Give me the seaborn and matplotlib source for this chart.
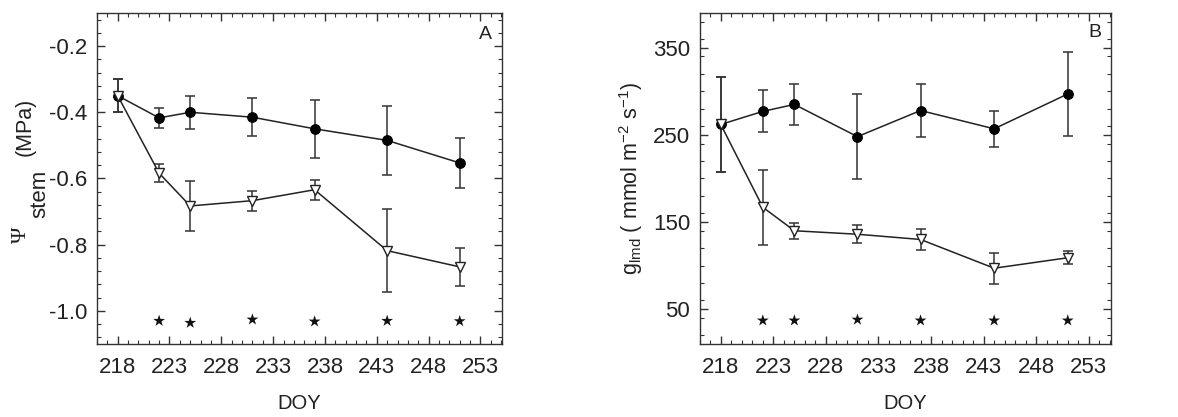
import matplotlib
matplotlib.use("Agg")
import matplotlib.pyplot as plt
import seaborn as sns
import numpy as np
import pandas as pd
from matplotlib.ticker import MultipleLocator

# ---- data ----
doy = [218, 222, 225, 231, 237, 244, 251]

# Panel A: stem water potential (MPa)
psi_ctrl = [-0.35, -0.417, -0.40, -0.415, -0.45, -0.485, -0.553]
psi_ctrl_err = [0.05, 0.03, 0.05, 0.057, 0.087, 0.104, 0.076]
psi_stress = [-0.35, -0.584, -0.683, -0.667, -0.634, -0.818, -0.867]
psi_stress_err = [0.05, 0.028, 0.075, 0.03, 0.03, 0.126, 0.058]

# Panel B: conductance (mmol m-2 s-1)
g_ctrl = [262, 277, 285, 248, 278, 257, 297]
g_ctrl_err = [55, 24, 24, 49, 30, 21, 48]
g_stress = [262, 167, 140, 136, 130, 97, 109]
g_stress_err = [55, 43, 9, 10.5, 12, 18, 7.5]

star_doy = [222, 225, 231, 237, 244, 251]
star_y_A = [-1.03, -1.036, -1.026, -1.032, -1.03, -1.031]
star_y_B = [37, 37, 38, 37, 37, 37]

x_ticks = [218, 223, 228, 233, 238, 243, 248, 253]
yticks_A = [-1.0, -0.8, -0.6, -0.4, -0.2]
yticks_B = [50, 150, 250, 350]

sns.set_theme(style="ticks")
plt.rcParams['font.family'] = ['Liberation Sans', 'DejaVu Sans']
plt.rcParams['mathtext.fontset'] = 'custom'
plt.rcParams['mathtext.rm'] = 'Liberation Sans'
plt.rcParams['mathtext.it'] = 'Liberation Sans:italic'

W, H = 1178, 417
fig = plt.figure(figsize=(W / 100, H / 100), dpi=100)
axA = fig.add_axes([0.0823, 0.175, 0.344, 0.794])
axB = fig.add_axes([0.594, 0.175, 0.349, 0.794])

TXT = '#222222'
EDGE = '#333333'

def draw(ax, ctrl, ctrl_err, stress, stress_err, stars_y):
    df = pd.DataFrame({'doy': doy * 2,
                       'val': ctrl + stress,
                       'grp': ['ctrl'] * len(doy) + ['stress'] * len(doy)})
    ax.errorbar(doy, ctrl, yerr=ctrl_err, fmt='none', ecolor=EDGE,
                elinewidth=1.1, capsize=3.6, capthick=1.1, zorder=2)
    ax.errorbar(doy, stress, yerr=stress_err, fmt='none', ecolor=EDGE,
                elinewidth=1.1, capsize=3.6, capthick=1.1, zorder=2)
    sns.lineplot(data=df[df.grp == 'ctrl'], x='doy', y='val', ax=ax,
                 color='#222222', lw=1.1, marker='o', markersize=7,
                 markerfacecolor='black', markeredgecolor='black', zorder=3)
    sns.lineplot(data=df[df.grp == 'stress'], x='doy', y='val', ax=ax,
                 color='#222222', lw=1.1, marker='v', markersize=7,
                 markerfacecolor='white', markeredgecolor='#222222',
                 markeredgewidth=1.0, zorder=4)
    sns.scatterplot(x=star_doy, y=stars_y, ax=ax, marker='*', s=80,
                    color='#111111', edgecolor='none', zorder=5)
    ax.set_xlim(216, 255.1)
    ax.set_xticks(x_ticks)
    ax.xaxis.set_minor_locator(MultipleLocator(1))
    ax.tick_params(which='both', direction='in', top=True, right=True,
                   colors=EDGE, labelcolor=TXT)
    ax.tick_params(which='major', length=6, width=1.0, labelsize=16)
    ax.tick_params(axis='x', which='major', pad=9)
    ax.tick_params(axis='y', which='major', pad=7)
    ax.tick_params(which='minor', length=3, width=0.8)
    for s in ax.spines.values():
        s.set_color(EDGE)
        s.set_linewidth(1.0)
    ax.set_xlabel('DOY', fontsize=14.5, color=TXT)
    ax.xaxis.set_label_coords(0.5, -0.15)

draw(axA, psi_ctrl, psi_ctrl_err, psi_stress, psi_stress_err, star_y_A)
axA.set_ylim(-1.1, -0.1)
axA.set_yticks(yticks_A)
axA.set_yticklabels([f'{v:.1f}' for v in yticks_A])
axA.yaxis.set_minor_locator(MultipleLocator(0.04))
axA.set_ylabel('')
# composite y label: Psi with large 'stem' subscript and (MPa)
fig.text(21 / W, 1 - 235 / H, '\u03a8', rotation=90, ha='center', va='center',
         fontsize=16, family='Liberation Serif', color=TXT)
fig.text(39.5 / W, 1 - 194 / H, 'stem', rotation=90, ha='center', va='center',
         fontsize=16, color=TXT)
fig.text(25 / W, 1 - 127 / H, '(MPa)', rotation=90, ha='center', va='center',
         fontsize=15.5, color=TXT)
axA.text(0.958, 0.935, 'A', transform=axA.transAxes, fontsize=14,
         color=TXT, ha='center', va='center')

draw(axB, g_ctrl, g_ctrl_err, g_stress, g_stress_err, star_y_B)
axB.set_ylim(10, 390)
axB.set_yticks(yticks_B)
axB.yaxis.set_minor_locator(MultipleLocator(20))
axB.set_ylabel(r'g$_{\mathregular{lmd}}$ ( mmol m$^{\mathregular{-2}}$ s$^{\mathregular{-1}}$)',
               fontsize=15.5, color=TXT)
axB.yaxis.set_label_coords(-0.132, 0.5)
axB.text(0.961, 0.94, 'B', transform=axB.transAxes, fontsize=14,
         color=TXT, ha='center', va='center')

for ax in (axA, axB):
    leg = ax.get_legend()
    if leg:
        leg.remove()

fig.savefig('out.png', dpi=100)
